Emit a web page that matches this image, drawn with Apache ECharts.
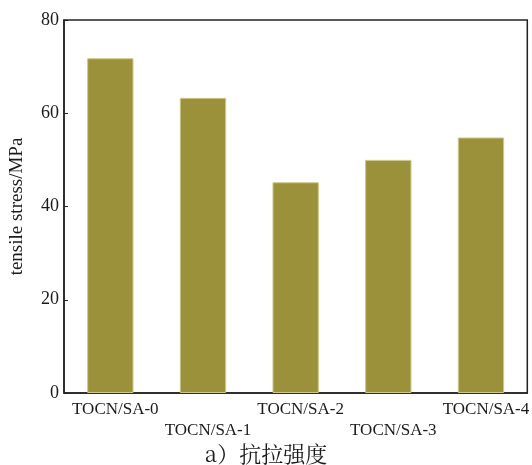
<!DOCTYPE html>
<html>
<head>
<meta charset="utf-8">
<script src="https://cdn.jsdelivr.net/npm/echarts@6/dist/echarts.min.js"></script>
<style>
  html, body { margin: 0; padding: 0; background: #fff; }
  #chart { width: 532px; height: 465px; }
</style>
</head>
<body>
<div id="chart"></div>
<script>
// Tensile strength of TOCN/SA composite films
const categories = ['TOCN/SA-0', 'TOCN/SA-1', 'TOCN/SA-2', 'TOCN/SA-3', 'TOCN/SA-4'];
const tensileStress = [71.8, 63.3, 45.2, 50.0, 54.8];
const yTicks = [0, 20, 40, 60, 80];

const serif = '"Liberation Serif", "DejaVu Serif", serif';
const chart = echarts.init(document.getElementById('chart'));

chart.setOption({
  animation: false,
  backgroundColor: '#fff',
  title: {
    text: 'a）抗拉强度',
    left: 'center',
    top: 438,
    textStyle: {
      fontFamily: '"Noto Serif CJK SC", "Noto Sans CJK SC", serif',
      fontWeight: 'normal',
      fontSize: 22,
      color: '#1a1a1a'
    }
  },
  grid: {
    left: 63, right: 3, top: 20, bottom: 72,
    show: true, borderColor: '#222', borderWidth: 1.5
  },
  xAxis: {
    type: 'category',
    data: categories,
    axisLine: { lineStyle: { color: '#222', width: 1.5 } },
    axisTick: { inside: true, alignWithLabel: true, length: 4, lineStyle: { color: '#222' } },
    axisLabel: {
      interval: 0,
      margin: 6,
      color: '#1a1a1a',
      fontFamily: serif,
      fontSize: 17,
      lineHeight: 21,
      padding: [0, 0, 0, 10],
      formatter: (v, i) => (i % 2 === 1 ? '\n' + v : v)
    }
  },
  yAxis: {
    type: 'value',
    min: yTicks[0],
    max: yTicks[yTicks.length - 1],
    interval: 20,
    name: 'tensile stress/MPa',
    nameLocation: 'middle',
    nameGap: 37,
    nameTextStyle: { fontFamily: serif, fontSize: 19, color: '#1a1a1a' },
    splitLine: { show: false },
    axisLine: { show: true, lineStyle: { color: '#222', width: 1.5 } },
    axisTick: { show: true, inside: true, length: 4, lineStyle: { color: '#222' } },
    axisLabel: { margin: 5, color: '#1a1a1a', fontFamily: serif, fontSize: 18 }
  },
  series: [{
    type: 'bar',
    data: tensileStress,
    barWidth: '50%',
    itemStyle: { color: '#9b913a', borderColor: '#cdc78a', borderWidth: 1 }
  }]
});
</script>
</body>
</html>
